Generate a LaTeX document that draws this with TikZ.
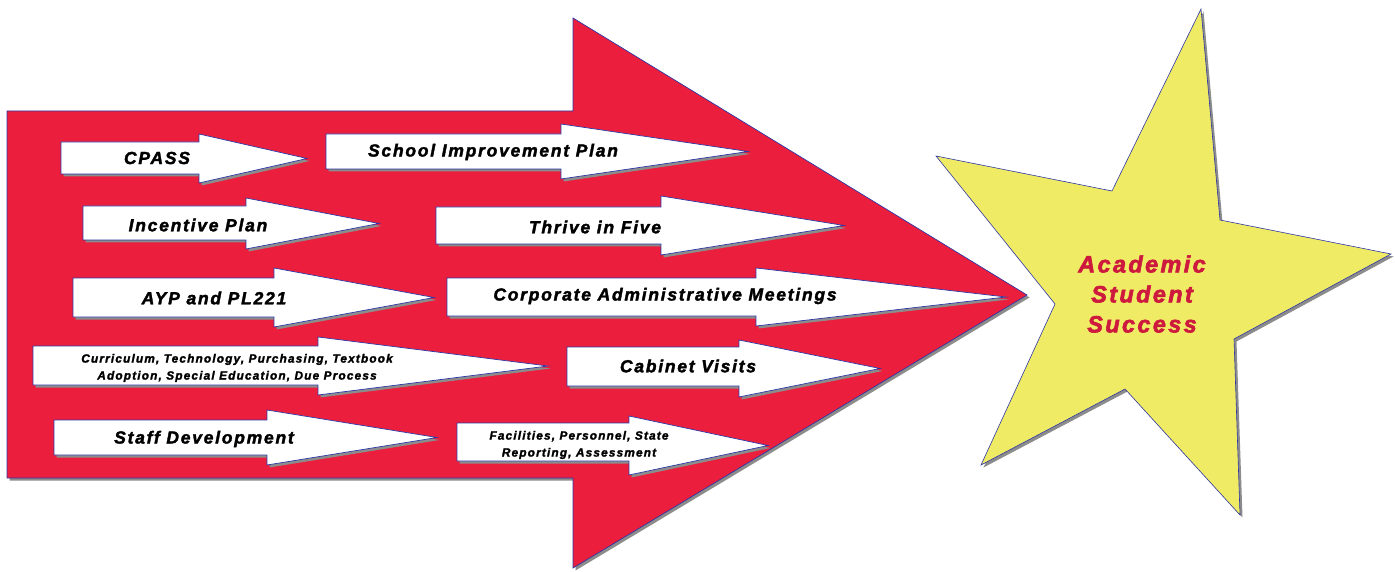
\documentclass[tikz,border=0pt]{standalone}
\usepackage{fontspec}
\setmainfont{Liberation Sans}
\newfontfamily\labelfont{Liberation Sans}[LetterSpace=10, FakeBold=2]
\newfontfamily\goalfont{Liberation Sans}[LetterSpace=10, FakeBold=2.5]
\usepackage{tikz}
\usetikzlibrary{shadows}

\definecolor{bigred}{RGB}{236,30,61}
\definecolor{staryellow}{RGB}{240,235,100}
\definecolor{edgeblue}{RGB}{45,55,165}
\definecolor{shadowgray}{RGB}{140,140,140}
\definecolor{textred}{RGB}{205,25,62}

% x0, head base, tip, body top, body bottom, head top, head bottom
\newcommand{\flowarrow}[7]{%
  \draw[smallarrow] (#1,#4) -- (#2,#4) -- (#2,#6) -- (#3,{(#6+#7)/2})
    -- (#2,#7) -- (#2,#5) -- (#1,#5) -- cycle;}

\begin{document}
\begin{tikzpicture}[
            x = 1pt, y = -1pt, % pixel grid, y going down
            grayshadow/.style = {drop shadow={shadow xshift=2.5pt, shadow yshift=-2.5pt,
                     fill=shadowgray, opacity=1}},
            bigarrow/.style = {fill=bigred, draw=edgeblue, line width=0.7pt, grayshadow},
            smallarrow/.style = {fill=white, draw=edgeblue, line width=0.7pt, grayshadow},
            starshape/.style = {fill=staryellow, draw=edgeblue, line width=0.6pt, grayshadow},
            label/.style = {font=\labelfont\bfseries\itshape\fontsize{17.5}{20}\selectfont,
                            inner sep=0pt},
            small/.style = {font=\labelfont\bfseries\itshape\fontsize{11.8}{17}\selectfont,
                            inner sep=0pt, align=center},
            goal/.style = {font=\goalfont\bfseries\itshape\fontsize{23.5}{30}\selectfont,
                           text=textred, inner sep=0pt, align=center}
        ]
\useasboundingbox (0,0) rectangle (1395,572);

% big arrow
\draw[bigarrow] (7,111) -- (573,111) -- (573,18) -- (1027,295)
    -- (573,568) -- (573,478) -- (7,478) -- cycle;

% small arrows
\flowarrow{61}{199}{307}{142}{174}{134}{183}
\flowarrow{326}{561}{748}{134}{169}{124}{179}
\flowarrow{83}{246}{379}{206}{240}{198}{249}
\flowarrow{436}{661}{844}{207}{244}{196}{255}
\flowarrow{73}{274}{434}{278}{317}{268}{327}
\flowarrow{447}{756}{1006}{278}{316}{268}{326}
\flowarrow{33}{318}{548}{346}{385}{337}{395}
\flowarrow{567}{739}{880}{347}{386}{340}{397}
\flowarrow{54}{267}{437}{420}{455}{410}{465}
\flowarrow{457}{629}{768}{423}{461}{416}{475}

\node[label] (cpass) at (157,158) {CPASS};
\node[label] (sip) at (493,152) {School Improvement Plan};
\node[label] (incentive) at (198,225) {Incentive Plan};
\node[label] (thrive) at (595,227) {Thrive in Five};
\node[label] (ayp) at (214,298) {AYP and PL221};
\node[label] (corporate) at (665,296) {Corporate Administrative Meetings};
\node[small] (curriculum) at (237,368) {Curriculum, Technology, Purchasing, Textbook\\
    Adoption, Special Education, Due Process};
\node[label] (cabinet) at (688,366) {Cabinet Visits};
\node[label] (staff) at (204,439) {Staff Development};
\node[small] (facilities) at (579,445) {Facilities, Personnel, State\\Reporting, Assessment};

% star
\draw[starshape] (1201,9) -- (1220,220) -- (1391,254) -- (1234,339) -- (1240,515)
    -- (1125,389) -- (981,465) -- (1055,304) -- (936,156) -- (1112,191) -- cycle;
\node[goal] (success) at (1142,294) {Academic\\Student\\Success};

\end{tikzpicture}
\end{document}
